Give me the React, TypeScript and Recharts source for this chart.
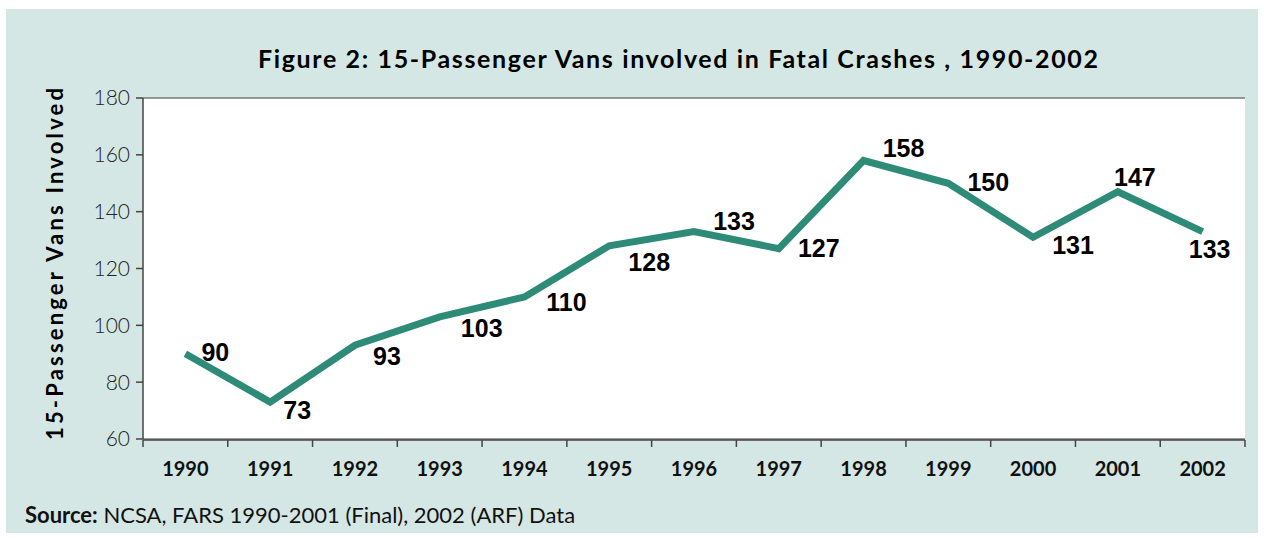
import { LineChart, Line, XAxis, YAxis, CartesianGrid, LabelList } from 'recharts';

const years = [1990, 1991, 1992, 1993, 1994, 1995, 1996, 1997, 1998, 1999, 2000, 2001, 2002];
const vans = [90, 73, 93, 103, 110, 128, 133, 127, 158, 150, 131, 147, 133];
const yTicks = [60, 80, 100, 120, 140, 160, 180];

// label offsets from each point (centre of text), in px
const labelOffsets: [number, number][] = [
  [30, -2], [27, 8], [32, 11], [42, 11], [42, 5], [40, 16], [40, -11],
  [40, -1], [40, -13], [40, -1], [40, 8], [17, -15], [7, 17],
];

const data = years.map((year, i) => ({ year, vans: vans[i] }));
const boundaries = [...years.map(y => y - 0.5), years[years.length - 1] + 0.5];

const BG = '#d5e7e4';
const TEAL = '#2e8b77';
const FONT = "Lato, 'DejaVu Sans', sans-serif";

const YearTick = (props: any) => {
  const { x, y, payload } = props;
  return (
    <text x={x} y={y + 37} textAnchor="middle" fontFamily={FONT}
      fontWeight={700} fontSize={20} fill="#111">
      {payload.value}
    </text>
  );
};

const EmptyTick = () => <g />;

const ValueLabel = (props: any) => {
  const { x, y, value, index } = props;
  const [dx, dy] = labelOffsets[index] ?? [0, -12];
  return (
    <text x={x + dx} y={y + dy} textAnchor="middle" dominantBaseline="central"
      fontFamily="'Liberation Sans', Arial, sans-serif" fontWeight={700} fontSize={25} fill="#000">
      {value}
    </text>
  );
};

export default function App() {
  return (
    <div style={{ position: 'absolute', left: 6, top: 9, width: 1252, height: 524, background: BG }}>
      <LineChart width={1252} height={524} data={data} margin={{ top: 89, right: 13, bottom: 92, left: 0 }}>
        <text x={672} y={59} textAnchor="middle" fontFamily={FONT}
          fontWeight={700} fontSize={25} fill="#000" textLength={840} lengthAdjust="spacing">
          Figure 2: 15-Passenger Vans involved in Fatal Crashes , 1990-2002
        </text>
        <text transform="translate(57,255) rotate(-90)" textAnchor="middle"
          fontFamily={FONT} fontWeight={700} fontSize={22} fill="#000"
          textLength={352} lengthAdjust="spacing">
          15-Passenger Vans Involved
        </text>
        <text x={19} y={514} fontFamily={FONT} fontSize={22} fill="#111">
          <tspan fontWeight={700}>Source:</tspan>
          <tspan> NCSA, FARS 1990-2001 (Final), 2002 (ARF) Data</tspan>
        </text>
        <CartesianGrid vertical={false} stroke="#777" strokeWidth={1.5} fill="#fff" fillOpacity={1} />
        <XAxis xAxisId="ticks" dataKey="year" type="number" domain={[1989.5, 2002.5]} ticks={boundaries}
          tick={<EmptyTick />} height={1} tickSize={7} axisLine={{ stroke: '#444', strokeWidth: 1.5 }}
          tickLine={{ stroke: '#444', strokeWidth: 1.5 }} interval={0} />
        <XAxis xAxisId="labels" dataKey="year" type="number" domain={[1989.5, 2002.5]} ticks={years}
          tick={<YearTick />} height={1} tickSize={0} tickMargin={0} axisLine={false} tickLine={false}
          interval={0} />
        <YAxis yAxisId="left" domain={[60, 180]} ticks={yTicks} width={137} tickSize={7} tickMargin={6}
          axisLine={{ stroke: '#444', strokeWidth: 1.5 }} tickLine={{ stroke: '#444', strokeWidth: 1.5 }}
          tick={{ fontFamily: FONT, fontWeight: 300, fontSize: 21, fill: '#222' }}
          interval={0} />
        <YAxis yAxisId="right" orientation="right" domain={[60, 180]} width={0} tick={false}
          tickLine={false} axisLine={{ stroke: '#555', strokeWidth: 1.5 }} />
        <Line xAxisId="labels" yAxisId="left" type="linear" dataKey="vans" stroke={TEAL} strokeWidth={7}
          dot={false} isAnimationActive={false} strokeLinejoin="miter">
          <LabelList dataKey="vans" content={<ValueLabel />} />
        </Line>
      </LineChart>
    </div>
  );
}
